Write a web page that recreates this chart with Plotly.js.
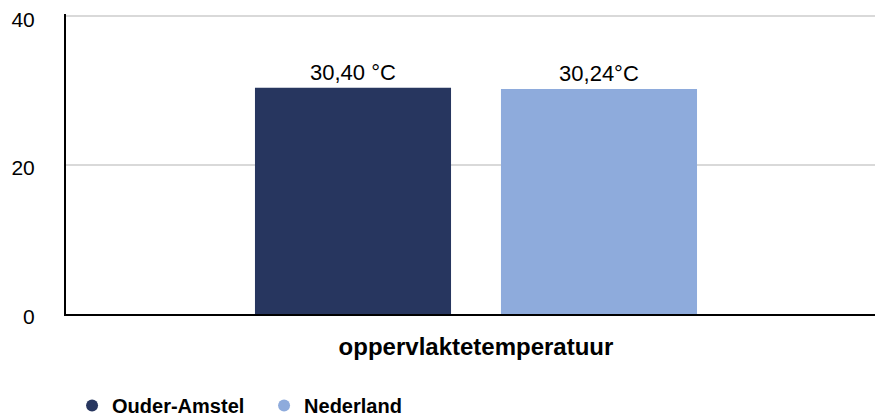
<!DOCTYPE html>
<html>
<head>
<meta charset="utf-8">
<script src="https://cdn.plot.ly/plotly-3.0.1.min.js"></script>
<style>html,body{margin:0;padding:0;background:#fff;}#chart{width:875px;height:416px;}</style>
</head>
<body>
<div id="chart"></div>
<script>
const categories = ["oppervlaktetemperatuur"];
const seriesNames = ["Ouder-Amstel", "Nederland"];
const ouderAmstel = [30.40];
const nederland = [30.24];
const ouderAmstelLabels = ["30,40 °C"];
const nederlandLabels = ["30,24°C"];
const colors = ["#27365f", "#8eabdc"];
const yTicks = [0, 20, 40];

const FONT = "Liberation Sans, Arial, sans-serif";

const barTrace = (name, y, text, color) => ({
  type: "bar", name: name, x: categories, y: y, text: text,
  textposition: "outside", cliponaxis: false,
  textfont: {family: FONT, size: 22, color: "#000"},
  marker: {color: color}, showlegend: false, hoverinfo: "skip"
});
const legendTrace = (name, color) => ({
  type: "scatter", mode: "markers", name: name, x: [null], y: [null],
  marker: {symbol: "circle", size: 12, color: color}, showlegend: true
});

const data = [
  barTrace(seriesNames[0], ouderAmstel, ouderAmstelLabels, colors[0]),
  barTrace(seriesNames[1], nederland, nederlandLabels, colors[1]),
  legendTrace(seriesNames[0], colors[0]),
  legendTrace(seriesNames[1], colors[1])
];

const layout = {
  width: 875, height: 416,
  margin: {l: 66, r: 0, t: 14, b: 102, autoexpand: false},
  paper_bgcolor: "#fff", plot_bgcolor: "#fff",
  barmode: "group", bargap: 0.4, bargroupgap: 0.203,
  font: {family: FONT, color: "#000"},
  xaxis: {
    type: "category", range: [-0.5, 0.4866], automargin: false,
    showline: true, linecolor: "#000", linewidth: 2,
    showgrid: false, ticks: "", ticklabelstandoff: 10,
    tickfont: {family: FONT, size: 24, color: "#000", weight: "bold"}
  },
  yaxis: {
    range: [0, 40.3], tickvals: yTicks, ticktext: yTicks.map(String), automargin: false,
    showline: true, linecolor: "#000", linewidth: 2,
    showgrid: true, gridcolor: "#d9d9d9", gridwidth: 1.5,
    zeroline: false, ticks: "", ticklabelstandoff: 25, ticklabelshift: 3,
    tickfont: {family: FONT, size: 21, color: "#000"}
  },
  legend: {
    orientation: "h", x: 0.0075, xanchor: "left", y: -0.305, yanchor: "middle",
    font: {family: FONT, size: 20, color: "#000", weight: "bold"},
    itemwidth: 30, traceorder: "normal", entrywidth: 147
  },
  showlegend: true
};

Plotly.newPlot("chart", data, layout, {displayModeBar: false, staticPlot: true});
</script>
</body>
</html>
